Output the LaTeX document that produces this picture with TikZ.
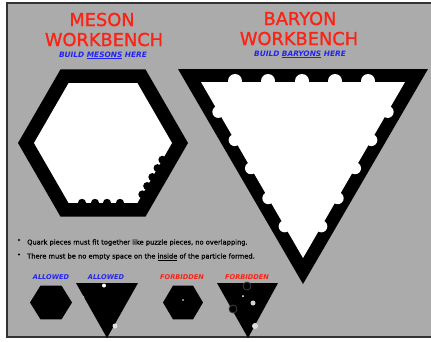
\documentclass[tikz,border=0pt]{standalone}
\usepackage{fontspec}
\setmainfont{DejaVu Sans}
\newfontfamily\benchfont[FakeBold=1.2]{DejaVu Sans}
\newfontfamily\rulefont[FakeBold=0.8]{DejaVu Sans}
\usepackage{xcolor}
\usetikzlibrary{calc}
\definecolor{benchgray}{RGB}{171,171,171}
\definecolor{framegray}{RGB}{50,50,50}
\definecolor{titlered}{RGB}{250,35,20}
\definecolor{noteblue}{RGB}{35,35,245}

\begin{document}
\begin{tikzpicture}[
			x=1pt, y=-1pt,
			title/.style={anchor=base, text=titlered, inner sep=0pt, font=\fontsize{17.8}{20}\selectfont\benchfont},
			subtitle/.style={anchor=base, text=noteblue, inner sep=0pt, font=\fontsize{7.4}{8}\selectfont\bfseries\itshape},
			rule/.style={anchor=base west, inner sep=0pt, font=\fontsize{6.7}{8}\selectfont\rulefont},
			allowed/.style={anchor=base, text=noteblue, inner sep=0pt, font=\fontsize{6.6}{7}\selectfont\bfseries\itshape},
			forbidden/.style={anchor=base, text=titlered, inner sep=0pt, font=\fontsize{6.6}{7}\selectfont\bfseries\itshape},
			piece/.style={fill=black},
			hole/.style={fill=white}
			]
			\useasboundingbox (0,0) rectangle (431,341);
			\fill[white] (0,0) rectangle (431,341);
			\fill[benchgray] (7,3) rectangle (433,337);
			\draw[framegray, line width=2pt] (433,3) -- (7,3) -- (7,337) -- (433,337);
			
			% titles
			\node[title] (mesonA) at (102,26) {MESON};
			\node[title] (mesonB) at (104,46) {WORKBENCH};
			\node[subtitle] (mesonsub) at (103,57) {BUILD \underline{MESONS} HERE};
			\node[title] (baryonA) at (300,25) {BARYON};
			\node[title] (baryonB) at (299,45) {WORKBENCH};
			\node[subtitle] (baryonsub) at (300,56) {BUILD \underline{BARYONS} HERE};
			
			% meson workbench
			\begin{scope}[shift={(103,143)}]
				\fill[piece] (0:85) \foreach \a in {60,120,...,300} {-- (\a:85)} -- cycle;
				\fill[hole] (0:69) \foreach \a in {60,120,...,300} {-- (\a:69)} -- cycle;
				\foreach \x in {-21,-8,4,17}
					\fill[piece] (\x,59.8) circle (4);
				\foreach \t in {0.28,0.42,0.57,0.72,0.86}
					\fill[piece] ($(0:69)!\t!(60:69)$) circle (4);
			\end{scope}
			
			% baryon workbench
			\fill[piece] (178,69) -- (428,69) -- (303,284) -- cycle;
			\fill[hole] (201,82) -- (405,82) -- (303,258) -- cycle;
			\foreach \x in {235,268,302,335,368}
				\fill[hole] (\x,81) circle (7);
			\foreach \t in {0.17,0.33,0.49,0.66,0.82} {
				\fill[hole] ($(201,82)!\t!(303,258)$) circle (6);
				\fill[hole] ($(405,82)!\t!(303,258)$) circle (6);
			}
			
			% rules
			\fill (19,240) circle (1.1);
			\fill (19,254.5) circle (1.1);
			\node[rule] (rule1) at (27,244.5) {Quark pieces must fit together like puzzle pieces, no overlapping.};
			\node[rule] (rule2) at (27,258.5) {There must be no empty space on the \underline{inside} of the particle formed.};
			
			% examples
			\node[allowed] (ok1) at (51,279) {ALLOWED};
			\node[allowed] (ok2) at (106,279) {ALLOWED};
			\node[forbidden] (bad1) at (182,279) {FORBIDDEN};
			\node[forbidden] (bad2) at (247,279) {FORBIDDEN};
			
			\fill[piece] (51,302.5) +(0:21 and 19.5) \foreach \a in {60,120,...,300} {-- +(\a:21 and 19.5)} -- cycle;
			\fill[piece] (76,283) -- (138,283) -- (107,338) -- cycle;
			\fill[hole] (104,285.5) circle (2);
			\fill[gray!60] (83,297) circle (1.5);
			\fill[gray!25] (115,326) circle (2.5);
			
			\fill[piece] (183,302.5) +(0:20 and 19.5) \foreach \a in {60,120,...,300} {-- +(\a:20 and 19.5)} -- cycle;
			\fill[hole] (183,300) circle (0.8);
			\fill[piece] (217,283) -- (278,283) -- (248,338) -- cycle;
			\filldraw[draw=darkgray, fill=black, line width=0.8pt] (247,286) circle (4);
			\filldraw[draw=darkgray, fill=black, line width=0.8pt] (233,309) circle (4);
			\fill[hole] (243,296) circle (1);
			\fill[gray!35] (253,303) circle (2.5);
			\fill[gray!25] (255,326) circle (3);
		\end{tikzpicture}
\end{document}
